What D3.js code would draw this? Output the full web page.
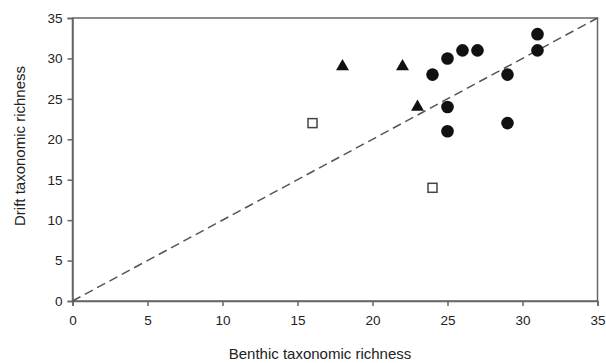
<!DOCTYPE html>
<html><head><meta charset="utf-8">
<script src="https://cdn.jsdelivr.net/npm/d3@7"></script>
<style>body{margin:0;background:#fff;}svg{display:block;}</style>
</head><body>
<svg id="c" width="606" height="363"></svg>
<script>
const circleX = [24, 25, 26, 27, 31, 31, 29, 25, 25, 29];
const circleY = [28, 30, 31, 31, 33, 31, 28, 24, 21, 22];
const triX = [18, 22, 23];
const triY = [29, 29, 24];
const squareX = [16, 24];
const squareY = [22, 14];
const ticks = [0, 5, 10, 15, 20, 25, 30, 35];

const svg = d3.select('#c');
const L = 72.5, R = 597.5, T = 18, B = 301;
const x = d3.scaleLinear().domain([0, 35]).range([L, R]);
const y = d3.scaleLinear().domain([0, 35]).range([B, T]);
const axCol = '#666';
const font = 'Liberation Sans, Arial, sans-serif';

// frame
svg.append('rect').attr('x', L).attr('y', T).attr('width', R - L).attr('height', B - T)
  .attr('fill', 'none').attr('stroke', axCol).attr('stroke-width', 1.5);

const xa = svg.append('g').attr('transform', `translate(0,${B})`)
  .call(d3.axisBottom(x).tickValues(ticks).tickSize(5).tickPadding(9));
const ya = svg.append('g').attr('transform', `translate(${L},0)`)
  .call(d3.axisLeft(y).tickValues(ticks).tickSize(5).tickPadding(5));
[xa, ya].forEach(g => {
  g.select('.domain').attr('stroke', axCol).attr('stroke-width', 1.5);
  g.selectAll('.tick line').attr('stroke', axCol).attr('stroke-width', 1.5);
  g.selectAll('.tick text').attr('font-family', font)
    .attr('font-size', 13.5).attr('fill', '#222');
});

// 1:1 line
svg.append('line').attr('x1', x(0)).attr('y1', y(0)).attr('x2', x(35)).attr('y2', y(35))
  .attr('stroke', '#555').attr('stroke-width', 1.5).attr('stroke-dasharray', '9,5');

// circles
svg.append('g').selectAll('circle').data(circleX.map((d, i) => [d, circleY[i]])).join('circle')
  .attr('cx', d => x(d[0])).attr('cy', d => y(d[1])).attr('r', 6.3).attr('fill', '#111');
// triangles
const tri = d3.symbol().type(d3.symbolTriangle).size(72);
svg.append('g').selectAll('path').data(triX.map((d, i) => [d, triY[i]])).join('path')
  .attr('d', tri).attr('transform', d => `translate(${x(d[0])},${y(d[1])})`).attr('fill', '#111');
// squares
svg.append('g').selectAll('rect').data(squareX.map((d, i) => [d, squareY[i]])).join('rect')
  .attr('x', d => x(d[0]) - 4.5).attr('y', d => y(d[1]) - 4.5).attr('width', 9).attr('height', 9)
  .attr('fill', '#fff').attr('stroke', '#444').attr('stroke-width', 1.5);

// titles
svg.append('text').attr('x', 320).attr('y', 359).attr('text-anchor', 'middle')
  .attr('font-family', font).attr('font-size', 15).attr('fill', '#222')
  .text('Benthic taxonomic richness');
svg.append('text').attr('transform', `translate(25,146) rotate(-90)`).attr('text-anchor', 'middle')
  .attr('font-family', font).attr('font-size', 15).attr('fill', '#222')
  .text('Drift taxonomic richness');
</script>
</body></html>
